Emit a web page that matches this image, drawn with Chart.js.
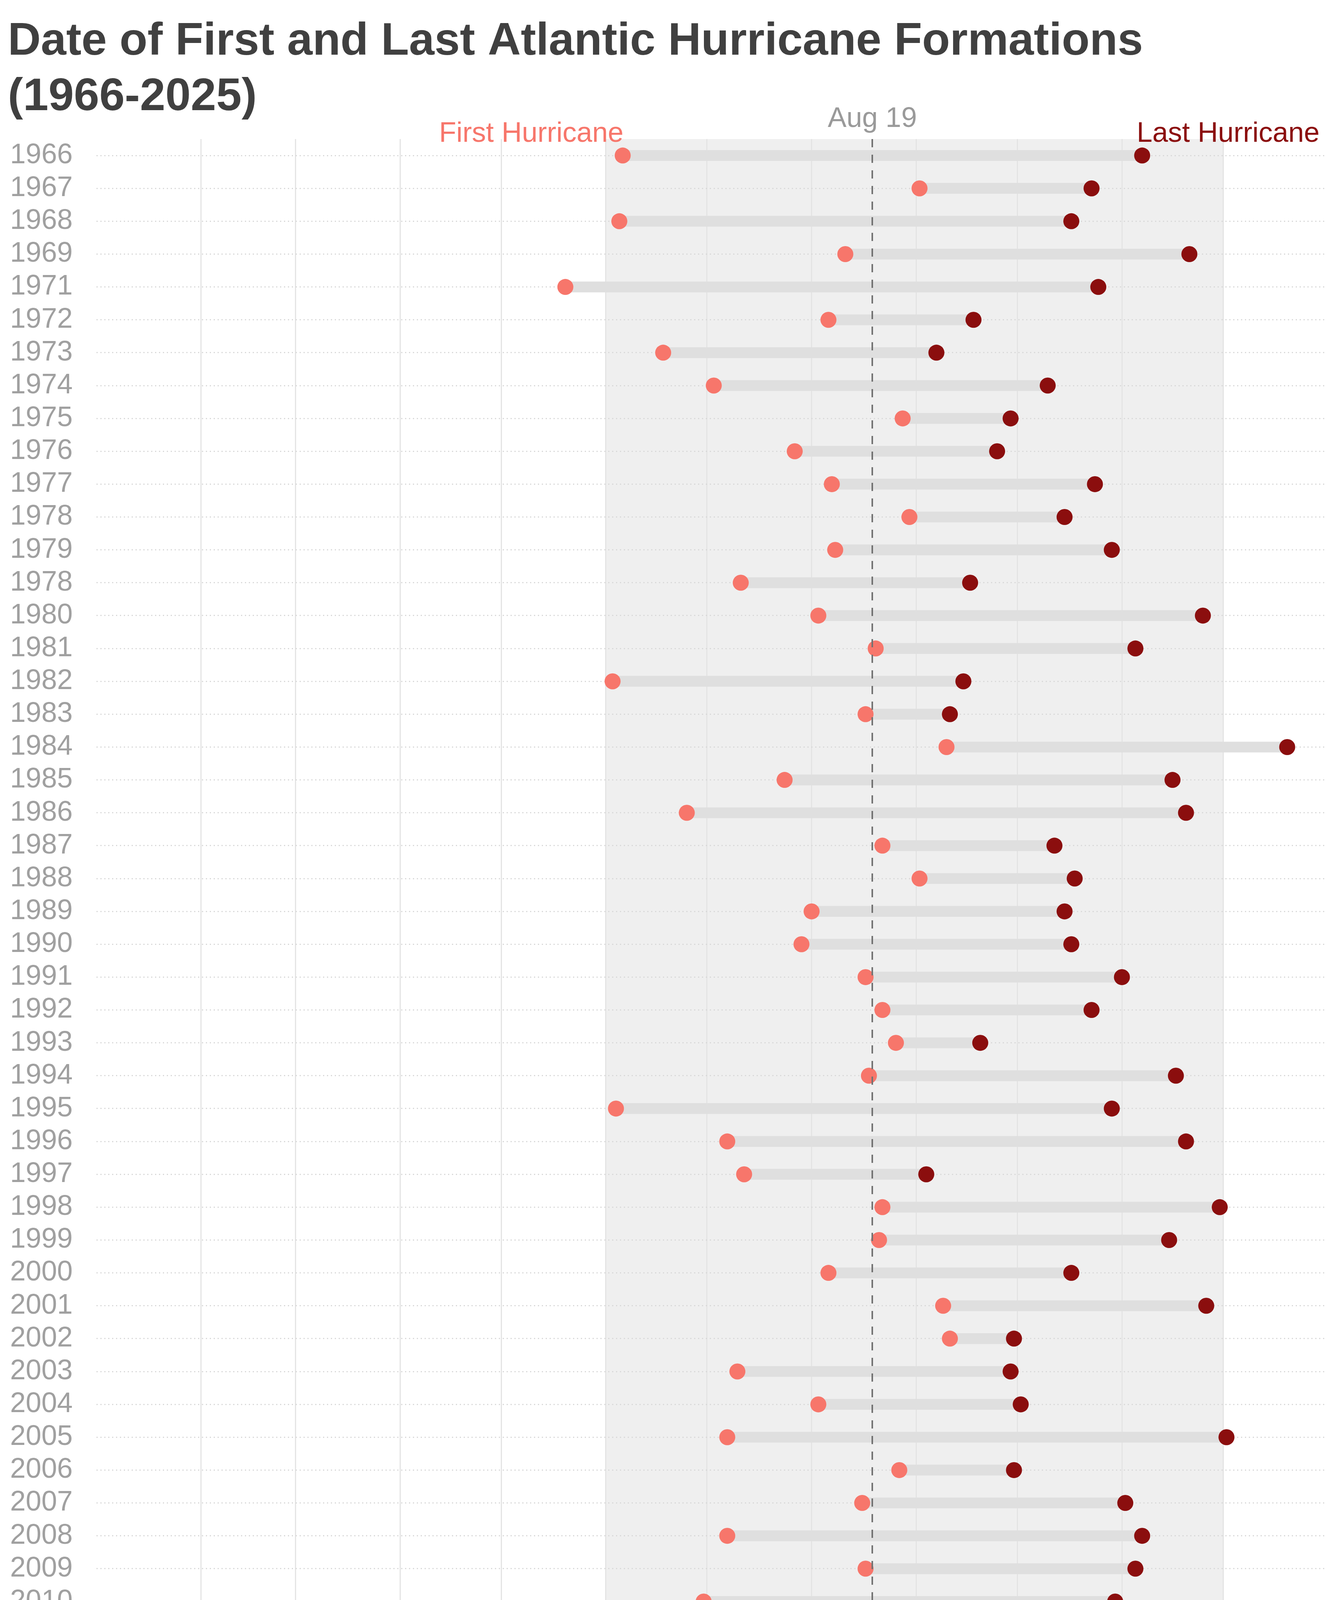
<!DOCTYPE html>
<html>
<head>
<meta charset="utf-8">
<script src="https://cdn.jsdelivr.net/npm/chart.js@4.4.1/dist/chart.umd.min.js"></script>
<style>
html,body{margin:0;padding:0;background:#ffffff;}
canvas{display:block;}
</style>
</head>
<body>
<canvas id="c" width="3415" height="5688" style="width:3415px;height:5688px"></canvas>
<script>
// ---- data (day of year, non-leap: Jan 1 = 1) ----
const years = ['1966','1967','1968','1969','1971','1972','1973','1974','1975','1976',
  '1977','1978','1979','1978','1980','1981','1982','1983','1984','1985',
  '1986','1987','1988','1989','1990','1991','1992','1993','1994','1995',
  '1996','1997','1998','1999','2000','2001','2002','2003','2004','2005',
  '2006','2007','2008','2009','2010','2011','2012','2013','2014','2015',
  '2016','2017','2018','2019','2020','2021','2022','2023','2024','2025'];
const firstDay = [157,245,156,223,140,218,169,184,240,208,
  219,242,220,192,215,232,154,229,253,205,
  176,234,245,213,210,229,234,238,230,155,
  188,193,234,233,218,252,254,191,215,188,
  239,228,188,229,181,234,172,254,184,232,
  14,221,187,194,206,183,245,203,181,227];
const lastDay = [311,296,290,325,298,261,250,283,272,268,
  297,288,302,260,329,309,258,254,354,320,
  324,285,291,288,290,305,296,263,321,302,
  324,247,334,319,290,330,273,272,275,336,
  273,306,311,309,303,297,297,257,286,315,
  327,284,301,300,319,267,313,293,310,297];
const monthLabels = ['JAN','FEB','MAR','APR','MAY','JUN','JUL','AUG','SEP','OCT','NOV','DEC'];
const monthStartDays = [1,32,60,91,121,152,182,213,244,274,305,335];
const seasonStartDay = 152;   // Jun 1
const seasonEndDay = 335;     // Dec 1
const markerDay = 231;        // Aug 19
const markerLabel = 'Aug 19';
const titleLines = ['Date of First and Last Atlantic Hurricane Formations', '(1966-2025)'];
const captionText = 'Data Analysis/Plot: Michael Lowry \u25CF Raw Data: NOAA/NHC';
const firstLabel = 'First Hurricane';
const lastLabel = 'Last Hurricane';

const FONT = '"Liberation Sans", Arial, Helvetica, sans-serif';
const COL_FIRST = '#F7766B';
const COL_LAST = '#8B0E0E';

const decor = {
  id: 'decor',
  beforeDraw(chart) {
    const {ctx, chartArea: a, scales: {x}} = chart;
    ctx.save();
    ctx.fillStyle = '#ffffff';
    ctx.fillRect(0, 0, chart.width, chart.height);
    const x0 = x.getPixelForValue(seasonStartDay);
    const x1 = x.getPixelForValue(seasonEndDay);
    ctx.fillStyle = '#efefef';
    ctx.fillRect(x0, a.top, x1 - x0, a.bottom - a.top);
    ctx.restore();
  },
  afterDatasetsDraw(chart) {
    const {ctx, chartArea: a, scales: {x}} = chart;
    const xm = Math.round(x.getPixelForValue(markerDay));
    ctx.save();
    ctx.strokeStyle = '#727272';
    ctx.lineWidth = 4;
    ctx.setLineDash([21, 19]);
    ctx.beginPath();
    ctx.moveTo(xm, a.top);
    ctx.lineTo(xm, a.bottom);
    ctx.stroke();
    ctx.restore();
  },
  afterDraw(chart) {
    const {ctx, scales: {x}} = chart;
    ctx.save();
    ctx.textBaseline = 'alphabetic';
    // title
    ctx.fillStyle = '#404040';
    ctx.font = 'bold 117px ' + FONT;
    ctx.textAlign = 'left';
    ctx.fillText(titleLines[0], 20, 140);
    ctx.fillText(titleLines[1], 20, 282);
    // marker label
    ctx.fillStyle = '#9a9a9a';
    ctx.font = '72px ' + FONT;
    ctx.textAlign = 'center';
    ctx.fillText(markerLabel, x.getPixelForValue(markerDay), 325);
    // series labels
    ctx.fillStyle = COL_FIRST;
    ctx.textAlign = 'right';
    ctx.fillText(firstLabel, x.getPixelForValue(firstDay[0]) + 2, 363);
    ctx.fillStyle = COL_LAST;
    ctx.textAlign = 'left';
    ctx.fillText(lastLabel, x.getPixelForValue(lastDay[0]) - 14, 363);
    // caption
    ctx.fillStyle = '#8c8c8c';
    ctx.font = '53px ' + FONT;
    ctx.fillText(captionText, 189, 5658);
    ctx.restore();
  }
};

new Chart(document.getElementById('c'), {
  type: 'bar',
  data: {
    labels: years,
    datasets: [
      {
        type: 'line', label: 'Last', indexAxis: 'y', order: 1,
        data: lastDay, showLine: false,
        pointRadius: 20.5, pointHoverRadius: 20.5, pointBorderWidth: 0, borderWidth: 0,
        pointBackgroundColor: COL_LAST, borderColor: COL_LAST, backgroundColor: COL_LAST, clip: false
      },
      {
        type: 'line', label: 'First', indexAxis: 'y', order: 2,
        data: firstDay, showLine: false,
        pointRadius: 20.5, pointHoverRadius: 20.5, pointBorderWidth: 0, borderWidth: 0,
        pointBackgroundColor: COL_FIRST, borderColor: COL_FIRST, backgroundColor: COL_FIRST, clip: false
      },
      {
        type: 'bar', label: 'Span', indexAxis: 'y', order: 3,
        data: years.map((_, i) => [firstDay[i], lastDay[i]]),
        backgroundColor: '#dfdfdf', borderWidth: 0, barThickness: 27
      }
    ]
  },
  options: {
    indexAxis: 'y',
    responsive: false,
    devicePixelRatio: 1,
    animation: false,
    events: [],
    layout: {padding: {top: 356, left: 0, right: 0, bottom: 0}},
    plugins: {legend: {display: false}, tooltip: {enabled: false}, title: {display: false}},
    scales: {
      x: {
        type: 'linear', position: 'bottom', min: 1, max: 365.5,
        afterFit(s) { s.height = 284; },
        afterBuildTicks(s) { s.ticks = monthStartDays.map(v => ({value: v})); },
        grid: {
          drawTicks: false, lineWidth: 3,
          color: (c) => (c.tick && c.tick.value === 1) ? 'rgba(0,0,0,0)' : '#e4e4e4'
        },
        border: {display: false},
        ticks: {
          autoSkip: false, maxRotation: 0, padding: 82, labelOffset: 9,
          color: '#a0a0a0', font: {family: FONT, size: 72},
          callback: (v, i) => monthLabels[i]
        }
      },
      y: {
        type: 'category', offset: true,
        afterFit(s) { s.width = 247; },
        grid: {offset: false, drawTicks: false, lineWidth: 3, color: '#d8d8d8'},
        border: {display: false, dash: [3, 7]},
        ticks: {autoSkip: false, padding: 61, color: '#a0a0a0', font: {family: FONT, size: 72}}
      }
    }
  },
  plugins: [decor]
});
</script>
</body>
</html>
